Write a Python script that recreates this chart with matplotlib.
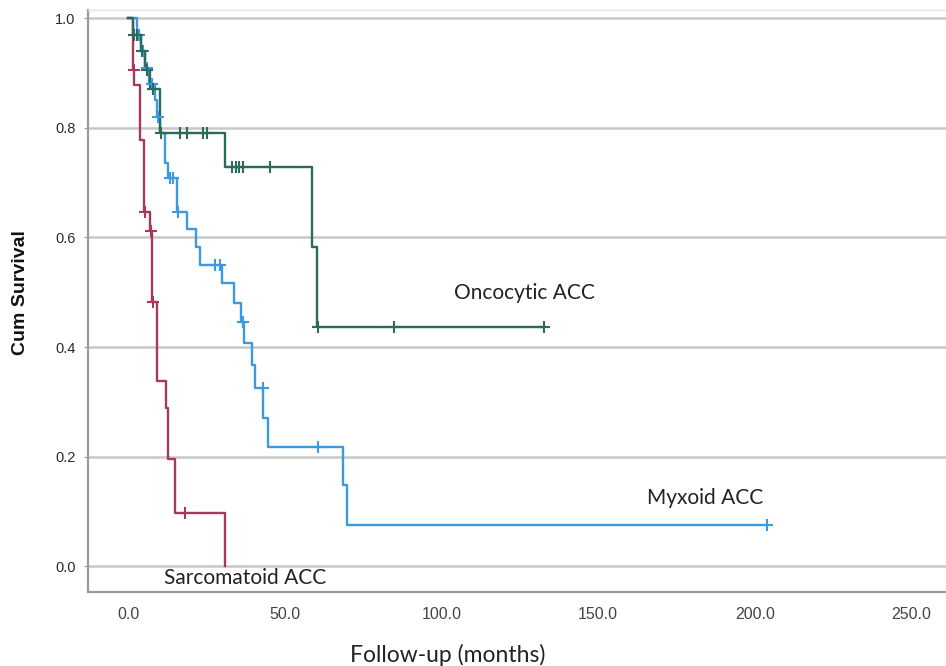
import numpy as np
import matplotlib
matplotlib.use('Agg')
import matplotlib.pyplot as plt

# Kaplan-Meier steps: event times (months) and survival after each event
sarc_times = [1.5, 2.0, 3.8, 5.1, 7.0, 7.7, 9.3, 12.1, 12.8, 15.0, 31.0]
sarc_surv = [0.905, 0.878, 0.777, 0.646, 0.611, 0.482, 0.339, 0.288, 0.195, 0.097, 0.0]
sarc_cens = [1.8, 5.4, 7.3, 8.0, 18.2]

myx_times = [2.8, 4.0, 5.5, 6.8, 8.5, 9.3, 10.2, 11.8, 12.8, 15.7, 18.9, 21.7, 22.8,
             30.0, 33.9, 36.0, 37.0, 39.6, 40.6, 43.2, 44.7, 68.7, 70.0]
myx_surv = [0.97, 0.94, 0.91, 0.88, 0.85, 0.82, 0.79, 0.735, 0.708, 0.646, 0.615, 0.582, 0.549,
            0.516, 0.48, 0.445, 0.407, 0.367, 0.325, 0.27, 0.217, 0.148, 0.075]
myx_cens = [3.5, 4.6, 6.0, 7.5, 9.6, 13.4, 14.3, 16.0, 27.8, 29.4, 36.7, 43.1, 60.7, 204.0]

onc_times = [1.5, 4.0, 5.5, 7.0, 10.2, 31.0, 58.7, 60.4]
onc_surv = [0.97, 0.94, 0.905, 0.87, 0.79, 0.728, 0.582, 0.436]
onc_cens = [2.0, 3.0, 4.5, 6.0, 7.8, 10.6, 16.6, 18.8, 24.0, 25.2,
            33.0, 34.3, 35.3, 36.8, 45.4, 60.6, 84.7, 132.6]

y_ticks = [0.0, 0.2, 0.4, 0.6, 0.8, 1.0]
x_ticks = [0, 50, 100, 150, 200, 250]

groups = [
    ('Sarcomatoid ACC', sarc_times, sarc_surv, sarc_cens, '#a8385f', (37.5, -0.022)),
    ('Myxoid ACC', myx_times, myx_surv, myx_cens, '#3c9ade', (184, 0.124)),
    ('Oncocytic ACC', onc_times, onc_surv, onc_cens, '#2a6b5c', (126.5, 0.498)),
]


def km_line(ax, times, surv, cens, color):
    t = np.r_[0.0, times]
    s = np.r_[1.0, surv]
    end = max(max(times), max(cens))
    if end > t[-1]:
        t = np.r_[t, end]
        s = np.r_[s, s[-1]]
    ax.step(t, s, where='post', color=color, lw=1.7, zorder=3)
    idx = np.searchsorted(np.r_[0.0, times], cens, side='right') - 1
    cy = np.r_[1.0, surv][idx]
    ax.plot(cens, cy, ls='none', marker='+', ms=9, mew=1.5, color=color, zorder=4)


fig = plt.figure(figsize=(9.46, 6.66), dpi=100)
ax = fig.add_axes([0.093, 0.111, 0.907, 0.874])

for name, t, s, c, col, pos in groups:
    km_line(ax, t, s, c, col)
    ax.text(pos[0], pos[1], name, ha='center', va='center', fontsize=15,
            family='Lato', color='#222222')

ax.set_xlim(-12.8, 261)
ax.set_ylim(-0.047, 1.015)
ax.set_yticks(y_ticks)
ax.set_yticklabels([f'{v:.1f}' for v in y_ticks], fontsize=10.5, color='#2a2a2a',
                   family='Liberation Sans')
ax.set_xticks(x_ticks)
ax.set_xticklabels([f'{v:.1f}' for v in x_ticks], fontsize=11.5, color='#444444',
                   family='Liberation Sans')
ax.tick_params(axis='x', length=0, pad=11)
ax.tick_params(axis='y', length=3, color='#999999', pad=6)
ax.yaxis.grid(True, color='#c8c8c8', lw=1.8)
ax.set_axisbelow(True)

for side in ['left', 'bottom']:
    ax.spines[side].set_color('#9a9a9a')
    ax.spines[side].set_linewidth(1.6)
ax.spines['top'].set_color('#e2e2e2')
ax.spines['top'].set_linewidth(1.0)
ax.spines['right'].set_visible(False)

fig.text(0.022, 0.56, 'Cum Survival', rotation=90, ha='center', va='center',
         fontsize=14, fontweight='bold', color='#111111', family='Liberation Sans')
fig.text(0.473, 0.017, 'Follow-up (months)', ha='center', va='center',
         fontsize=16.5, family='Lato', color='#222222')

fig.savefig('out.png', dpi=100, facecolor='white')
